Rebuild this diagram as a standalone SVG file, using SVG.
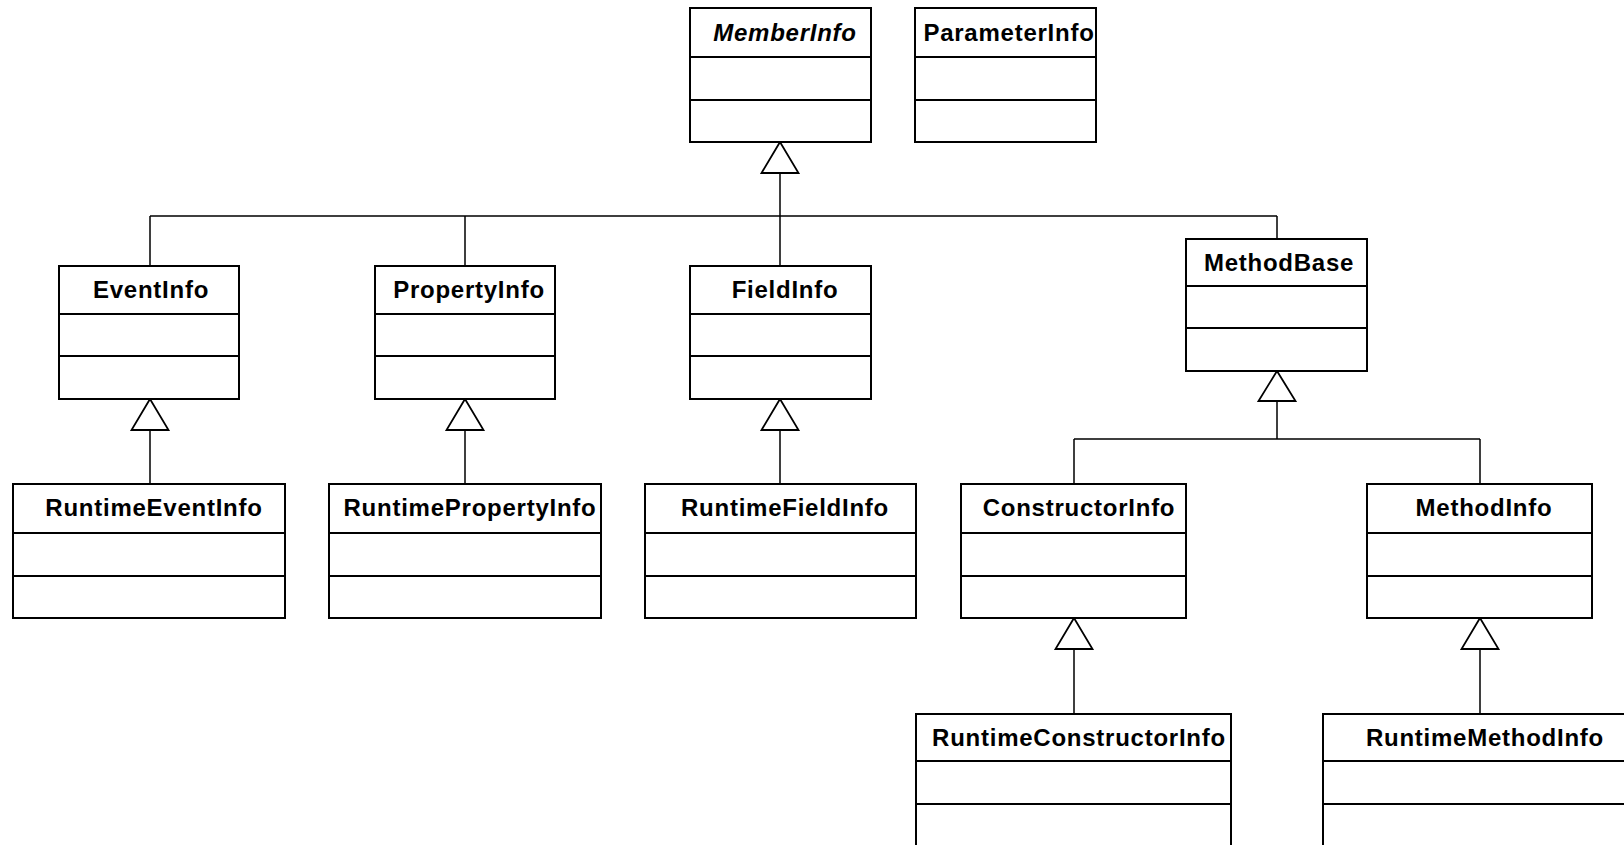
<svg xmlns="http://www.w3.org/2000/svg" width="1624" height="845" viewBox="0 0 1624 845">
<style>
.box{fill:#fff;stroke:#000;stroke-width:2}
.div{stroke:#000;stroke-width:2}
.lbl{font-family:"Liberation Sans",Arial,sans-serif;font-weight:bold;font-size:24px;letter-spacing:0.75px;text-anchor:middle;fill:#000}
.it{font-style:italic}
.ln{fill:none;stroke:#000;stroke-width:1.5}
.tri{fill:#fff;stroke:#000;stroke-width:1.8}
</style>
<rect width="1624" height="845" fill="#fff"/>
<g id="connectors">
<path class="ln" d="M780,173V266M150,216H1277M150,216V266M465,216V266M1277,216V239"/>
<path class="ln" d="M150,430V484M465,430V484M780,430V484"/>
<path class="ln" d="M1277,401V439M1074,439H1480M1074,439V484M1480,439V484"/>
<path class="ln" d="M1074,649V714M1480,649V714"/>
<polygon class="tri" points="780,142 761.5,173 798.5,173"/>
<polygon class="tri" points="150,399 131.5,430 168.5,430"/>
<polygon class="tri" points="465,399 446.5,430 483.5,430"/>
<polygon class="tri" points="780,399 761.5,430 798.5,430"/>
<polygon class="tri" points="1277,371 1258.5,401 1295.5,401"/>
<polygon class="tri" points="1074,618 1055.5,649 1092.5,649"/>
<polygon class="tri" points="1480,618 1461.5,649 1498.5,649"/>
</g>
<g id="MemberInfo">
<rect class="box" x="690" y="8" width="181" height="134"/>
<path class="div" d="M690,57H871M690,100H871"/>
<text class="lbl it" x="785" y="41">MemberInfo</text>
</g>
<g id="ParameterInfo">
<rect class="box" x="915" y="8" width="181" height="134"/>
<path class="div" d="M915,57H1096M915,100H1096"/>
<text class="lbl" x="1009" y="41">ParameterInfo</text>
</g>
<g id="EventInfo">
<rect class="box" x="59" y="266" width="180" height="133"/>
<path class="div" d="M59,314H239M59,356H239"/>
<text class="lbl" x="151" y="298">EventInfo</text>
</g>
<g id="PropertyInfo">
<rect class="box" x="375" y="266" width="180" height="133"/>
<path class="div" d="M375,314H555M375,356H555"/>
<text class="lbl" x="469" y="298">PropertyInfo</text>
</g>
<g id="FieldInfo">
<rect class="box" x="690" y="266" width="181" height="133"/>
<path class="div" d="M690,314H871M690,356H871"/>
<text class="lbl" x="785" y="298">FieldInfo</text>
</g>
<g id="MethodBase">
<rect class="box" x="1186" y="239" width="181" height="132"/>
<path class="div" d="M1186,286H1367M1186,328H1367"/>
<text class="lbl" x="1279" y="271">MethodBase</text>
</g>
<g id="RuntimeEventInfo">
<rect class="box" x="13" y="484" width="272" height="134"/>
<path class="div" d="M13,533H285M13,576H285"/>
<text class="lbl" x="154" y="516">RuntimeEventInfo</text>
</g>
<g id="RuntimePropertyInfo">
<rect class="box" x="329" y="484" width="272" height="134"/>
<path class="div" d="M329,533H601M329,576H601"/>
<text class="lbl" x="470" y="516">RuntimePropertyInfo</text>
</g>
<g id="RuntimeFieldInfo">
<rect class="box" x="645" y="484" width="271" height="134"/>
<path class="div" d="M645,533H916M645,576H916"/>
<text class="lbl" x="785" y="516">RuntimeFieldInfo</text>
</g>
<g id="ConstructorInfo">
<rect class="box" x="961" y="484" width="225" height="134"/>
<path class="div" d="M961,533H1186M961,576H1186"/>
<text class="lbl" x="1079" y="516">ConstructorInfo</text>
</g>
<g id="MethodInfo">
<rect class="box" x="1367" y="484" width="225" height="134"/>
<path class="div" d="M1367,533H1592M1367,576H1592"/>
<text class="lbl" x="1484" y="516">MethodInfo</text>
</g>
<g id="RuntimeConstructorInfo">
<rect class="box" x="916" y="714" width="315" height="140"/>
<path class="div" d="M916,761H1231M916,804H1231"/>
<text class="lbl" x="1079" y="746">RuntimeConstructorInfo</text>
</g>
<g id="RuntimeMethodInfo">
<rect class="box" x="1323" y="714" width="315" height="140"/>
<path class="div" d="M1323,761H1638M1323,804H1638"/>
<text class="lbl" x="1485" y="746">RuntimeMethodInfo</text>
</g>
</svg>
